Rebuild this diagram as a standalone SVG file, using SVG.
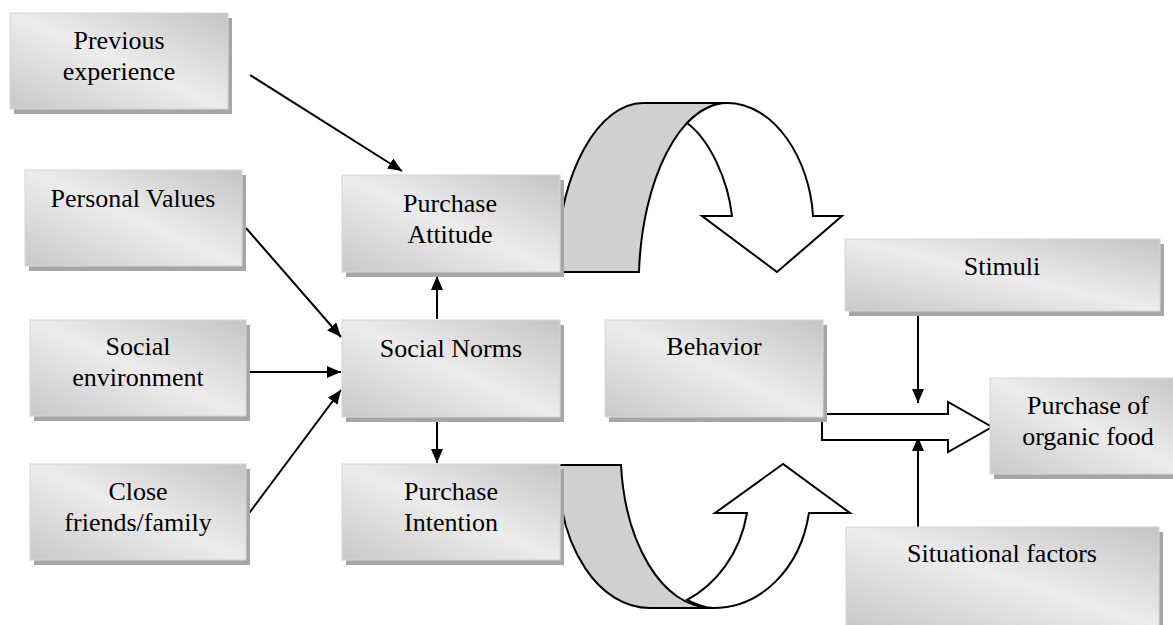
<svg xmlns="http://www.w3.org/2000/svg" width="1173" height="625" viewBox="0 0 1173 625">
<defs>
<linearGradient id="g" x1="1" y1="0" x2="0" y2="1">
<stop offset="0" stop-color="#c4c4c4"/>
<stop offset="0.5" stop-color="#ececec"/>
<stop offset="1" stop-color="#c8c8c8"/>
</linearGradient>
<marker id="ah" viewBox="0 0 14 12" refX="14" refY="6" markerWidth="14" markerHeight="12" markerUnits="userSpaceOnUse" orient="auto">
<path d="M0,0 L14,6 L0,12 Z" fill="#000"/>
</marker>
<style>
.sh{fill:#a6a6a6}
.bx{fill:url(#g);stroke:#d6d6d6;stroke-width:1}
.t{font-family:'Liberation Serif','DejaVu Serif',serif;font-size:26px;fill:#000;text-anchor:middle}
.ln{stroke:#000;stroke-width:2;fill:none;marker-end:url(#ah)}
.ol{stroke:#000;stroke-width:2;stroke-linejoin:miter}
</style>
</defs>
<rect width="1173" height="625" fill="#fff"/>
<g id="connectors">
<line class="ln" x1="250" y1="75" x2="402" y2="171"/>
<line class="ln" x1="246" y1="228" x2="341" y2="337"/>
<line class="ln" x1="247" y1="372" x2="341" y2="372"/>
<line class="ln" x1="247" y1="516" x2="341" y2="390"/>
<line class="ln" x1="437" y1="319" x2="437" y2="276"/>
<line class="ln" x1="437" y1="420" x2="437" y2="463"/>
<line class="ln" x1="918" y1="315" x2="918" y2="403"/>
<line class="ln" x1="918" y1="527" x2="918" y2="437"/>
<path class="ol" fill="#fff" d="M822,414 L948,414 L948,402 L992,427 L948,452 L948,440 L822,440 Z"/>
<path class="ol" fill="#d0d0d0" d="M557,272 C557,170 600,103 643,103 L727,103 C680,103 642,180 639,272 Z"/>
<path class="ol" fill="#fff" d="M727,103 C775,103 810,160 813,216 L842,216 L777,272 L702,216 L732,216 C728,180 710,140 687,123 C700,110 714,103 727,103 Z"/>
<path class="ol" fill="#d0d0d0" d="M558,465 L621,465 C625,540 660,608 713,608 L650,608 C600,608 558,550 558,465 Z"/>
<path class="ol" fill="#fff" d="M713,608 C760,608 800,570 809,513 L850,513 L783,464 L715,513 L747,513 C740,555 715,585 687,600 C697,605 705,608 713,608 Z"/>
</g>
<g id="n-prev">
<rect class="sh" x="14" y="18" width="218" height="96"/>
<rect class="bx" x="10" y="13" width="218" height="96"/>
<text class="t" x="119" y="49">Previous</text>
<text class="t" x="119" y="80">experience</text>
</g>
<g id="n-pv">
<rect class="sh" x="29" y="175" width="217" height="96"/>
<rect class="bx" x="25" y="170" width="217" height="96"/>
<text class="t" x="133" y="207">Personal Values</text>
</g>
<g id="n-se">
<rect class="sh" x="34" y="325" width="216" height="96"/>
<rect class="bx" x="30" y="320" width="216" height="96"/>
<text class="t" x="138" y="355">Social</text>
<text class="t" x="138" y="386">environment</text>
</g>
<g id="n-cf">
<rect class="sh" x="34" y="469" width="216" height="96"/>
<rect class="bx" x="30" y="464" width="216" height="96"/>
<text class="t" x="138" y="500">Close</text>
<text class="t" x="138" y="531">friends/family</text>
</g>
<g id="n-pa">
<rect class="sh" x="346" y="180" width="218" height="97"/>
<rect class="bx" x="342" y="175" width="218" height="97"/>
<text class="t" x="450" y="212">Purchase</text>
<text class="t" x="450" y="243">Attitude</text>
</g>
<g id="n-sn">
<rect class="sh" x="346" y="325" width="218" height="97"/>
<rect class="bx" x="342" y="320" width="218" height="97"/>
<text class="t" x="451" y="357">Social Norms</text>
</g>
<g id="n-pi">
<rect class="sh" x="346" y="469" width="218" height="96"/>
<rect class="bx" x="342" y="464" width="218" height="96"/>
<text class="t" x="451" y="500">Purchase</text>
<text class="t" x="451" y="531">Intention</text>
</g>
<g id="n-beh">
<rect class="sh" x="609" y="325" width="218" height="97"/>
<rect class="bx" x="605" y="320" width="218" height="97"/>
<text class="t" x="714" y="355">Behavior</text>
</g>
<g id="n-stim">
<rect class="sh" x="849" y="244" width="315" height="72"/>
<rect class="bx" x="845" y="239" width="315" height="72"/>
<text class="t" x="1002" y="275">Stimuli</text>
</g>
<g id="n-pof">
<rect class="sh" x="994" y="383" width="200" height="96"/>
<rect class="bx" x="990" y="378" width="200" height="96"/>
<text class="t" x="1088" y="414">Purchase of</text>
<text class="t" x="1088" y="445">organic food</text>
</g>
<g id="n-sf">
<rect class="sh" x="850" y="532" width="313" height="100"/>
<rect class="bx" x="846" y="527" width="313" height="100"/>
<text class="t" x="1002" y="562">Situational factors</text>
</g>
</svg>
